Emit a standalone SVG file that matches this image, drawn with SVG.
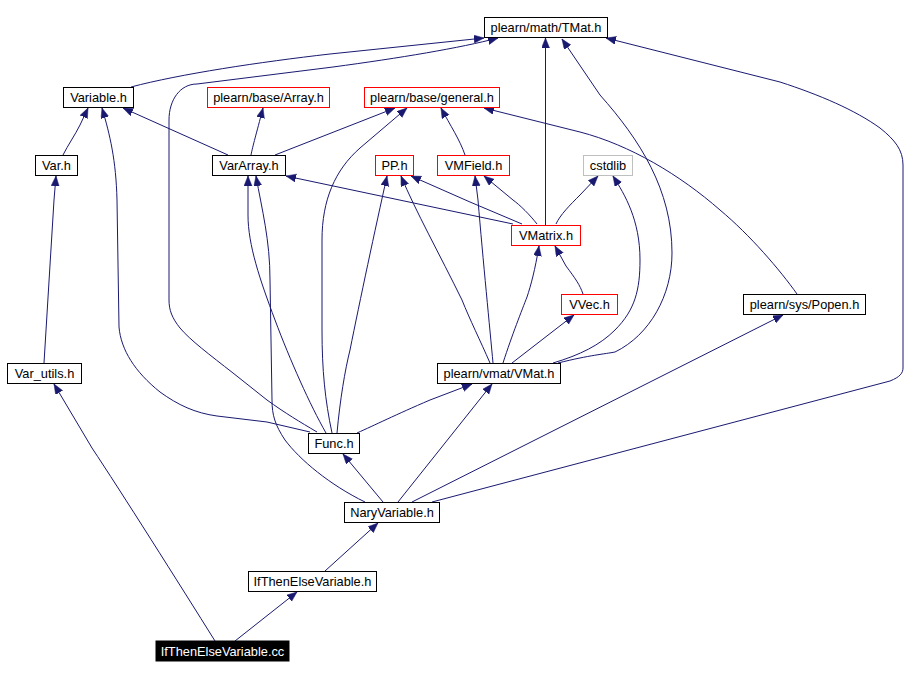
<svg xmlns="http://www.w3.org/2000/svg" width="921" height="678" viewBox="0 0 921 678">
<style>
.n rect{fill:#fff;stroke-width:1}
.n text{font-family:"Liberation Sans",Arial,sans-serif;font-size:12.8px;text-anchor:middle;fill:#000}
.n.k text{fill:#fff}
#edges path{fill:none;stroke:#191970;stroke-width:1;marker-end:url(#ah)}
</style>
<defs>
<marker id="ah" markerUnits="userSpaceOnUse" markerWidth="12" markerHeight="9" refX="10" refY="4" orient="auto">
<path d="M0,0 L10,4 L0,8 z" fill="#191970" stroke="#191970" stroke-width="0.5"/>
</marker>
</defs>
<rect width="921" height="678" fill="#fff"/>
<g id="edges">
<path d="M131,87 C180,74 260,62 330,54 L484,38"/>
<path d="M317,432 C300,422 285,413 267,400 L233,373 C210,355 190,340 180,328 C172,318 169,310 169,300 L169,120 C169,100 180,84 197,84 L333,67 C400,58 460,48 498,38"/>
<path d="M545.5,225 L545.5,38"/>
<path d="M558,363 C590,355 605,354 615,352 C650,335 672,295 672,253 C672,190 640,140 600,95 L562,39"/>
<path d="M432,502 L890,381 C900,377 903,373 903,368 L903,165 C903,150 895,140 880,128 C855,110 820,95 780,82 L606,38"/>
<path d="M63,155 C68,145 75,135 80,125 L88,108"/>
<path d="M310,432 L267,422 L217,416 C195,413 178,405 160,392 C135,372 121,350 119,327 L117,200 C116,160 110,135 102,108"/>
<path d="M228,155 L123,108"/>
<path d="M251,155 C253,145 256,135 263,108"/>
<path d="M275,155 L395,108"/>
<path d="M332,433 C325,400 322,370 322,330 L322,240 C322,200 335,170 360,148 L407,108"/>
<path d="M465,155 C460,140 450,125 441,108"/>
<path d="M797,294 C780,270 750,235 720,210 C680,175 630,145 580,132 L484,108"/>
<path d="M44,363 L54,200 L56,176"/>
<path d="M513,224 L286,176"/>
<path d="M365,502 C330,485 300,460 285,440 C275,425 272,415 272,400 L270,280 C270,240 262,210 256,176"/>
<path d="M326,433 C310,405 290,360 275,320 C260,280 248,245 248,215 L248,176"/>
<path d="M522,224 L470,202 L411,176"/>
<path d="M490,363 C480,340 470,320 462,300 C440,255 415,210 401,176"/>
<path d="M337,433 C340,400 345,370 350,350 C360,300 375,230 387,176"/>
<path d="M537,224 C530,215 520,205 513,200 L484,176"/>
<path d="M493,363 C490,330 483,260 478,200 L475,176"/>
<path d="M556,224 C560,215 570,205 580,195 L598,176"/>
<path d="M553,363 C580,355 600,345 615,330 C635,310 640,290 640,260 C640,220 625,195 613,176"/>
<path d="M503,363 C512,335 522,310 527,297 C531,285 535,270 539,246"/>
<path d="M583,294 C580,285 575,278 566,266 L555,246"/>
<path d="M512,363 L574,315"/>
<path d="M357,433 C375,425 395,415 430,400 L472,384"/>
<path d="M383,502 L343,454"/>
<path d="M398,502 L492,384"/>
<path d="M412,502 L783,315"/>
<path d="M325,571 L378,523"/>
<path d="M235,641 L297,592"/>
<path d="M215,641 C180,585 120,490 92,448 L54,384"/>
</g>
<g id="n-tmat" class="n"><rect x="484.5" y="17.5" width="123" height="20" stroke="#000"/><text x="546" y="32">plearn/math/TMat.h</text></g>
<g id="n-variable" class="n"><rect x="63.5" y="87.5" width="70" height="20" stroke="#000"/><text x="98.5" y="102">Variable.h</text></g>
<g id="n-array" class="n"><rect x="207.5" y="87.5" width="122" height="20" stroke="#ff0000"/><text x="268.5" y="102">plearn/base/Array.h</text></g>
<g id="n-general" class="n"><rect x="364.5" y="87.5" width="135" height="20" stroke="#ff0000"/><text x="432" y="102">plearn/base/general.h</text></g>
<g id="n-var" class="n"><rect x="35.5" y="155.5" width="42" height="20" stroke="#000"/><text x="56.5" y="170">Var.h</text></g>
<g id="n-vararray" class="n"><rect x="212.5" y="155.5" width="73" height="20" stroke="#000"/><text x="249" y="170">VarArray.h</text></g>
<g id="n-pp" class="n"><rect x="375.5" y="155.5" width="38" height="20" stroke="#ff0000"/><text x="394.5" y="170">PP.h</text></g>
<g id="n-vmfield" class="n"><rect x="437.5" y="155.5" width="72" height="20" stroke="#ff0000"/><text x="473.5" y="170">VMField.h</text></g>
<g id="n-cstdlib" class="n"><rect x="583.5" y="155.5" width="49" height="20" stroke="#bfbfbf"/><text x="608" y="170">cstdlib</text></g>
<g id="n-vmatrix" class="n"><rect x="511.5" y="225.5" width="69" height="20" stroke="#ff0000"/><text x="546" y="240">VMatrix.h</text></g>
<g id="n-vvec" class="n"><rect x="561.5" y="294.5" width="56" height="20" stroke="#ff0000"/><text x="589.5" y="309">VVec.h</text></g>
<g id="n-popen" class="n"><rect x="743.5" y="294.5" width="122" height="20" stroke="#000"/><text x="804.5" y="309">plearn/sys/Popen.h</text></g>
<g id="n-vmat" class="n"><rect x="437.5" y="363.5" width="123" height="20" stroke="#000"/><text x="499" y="378">plearn/vmat/VMat.h</text></g>
<g id="n-varutils" class="n"><rect x="7.5" y="363.5" width="74" height="20" stroke="#000"/><text x="44.5" y="378">Var_utils.h</text></g>
<g id="n-func" class="n"><rect x="308.5" y="433.5" width="51" height="20" stroke="#000"/><text x="334" y="448">Func.h</text></g>
<g id="n-nary" class="n"><rect x="344.5" y="502.5" width="95" height="20" stroke="#000"/><text x="392" y="517">NaryVariable.h</text></g>
<g id="n-ifh" class="n"><rect x="248.5" y="571.5" width="128" height="20" stroke="#000"/><text x="312.5" y="586">IfThenElseVariable.h</text></g>
<g id="n-cc" class="n k"><rect x="156" y="641" width="133" height="20" fill="#000" stroke="#000" style="fill:#000"/><text x="222.5" y="655.5">IfThenElseVariable.cc</text></g>
</svg>
